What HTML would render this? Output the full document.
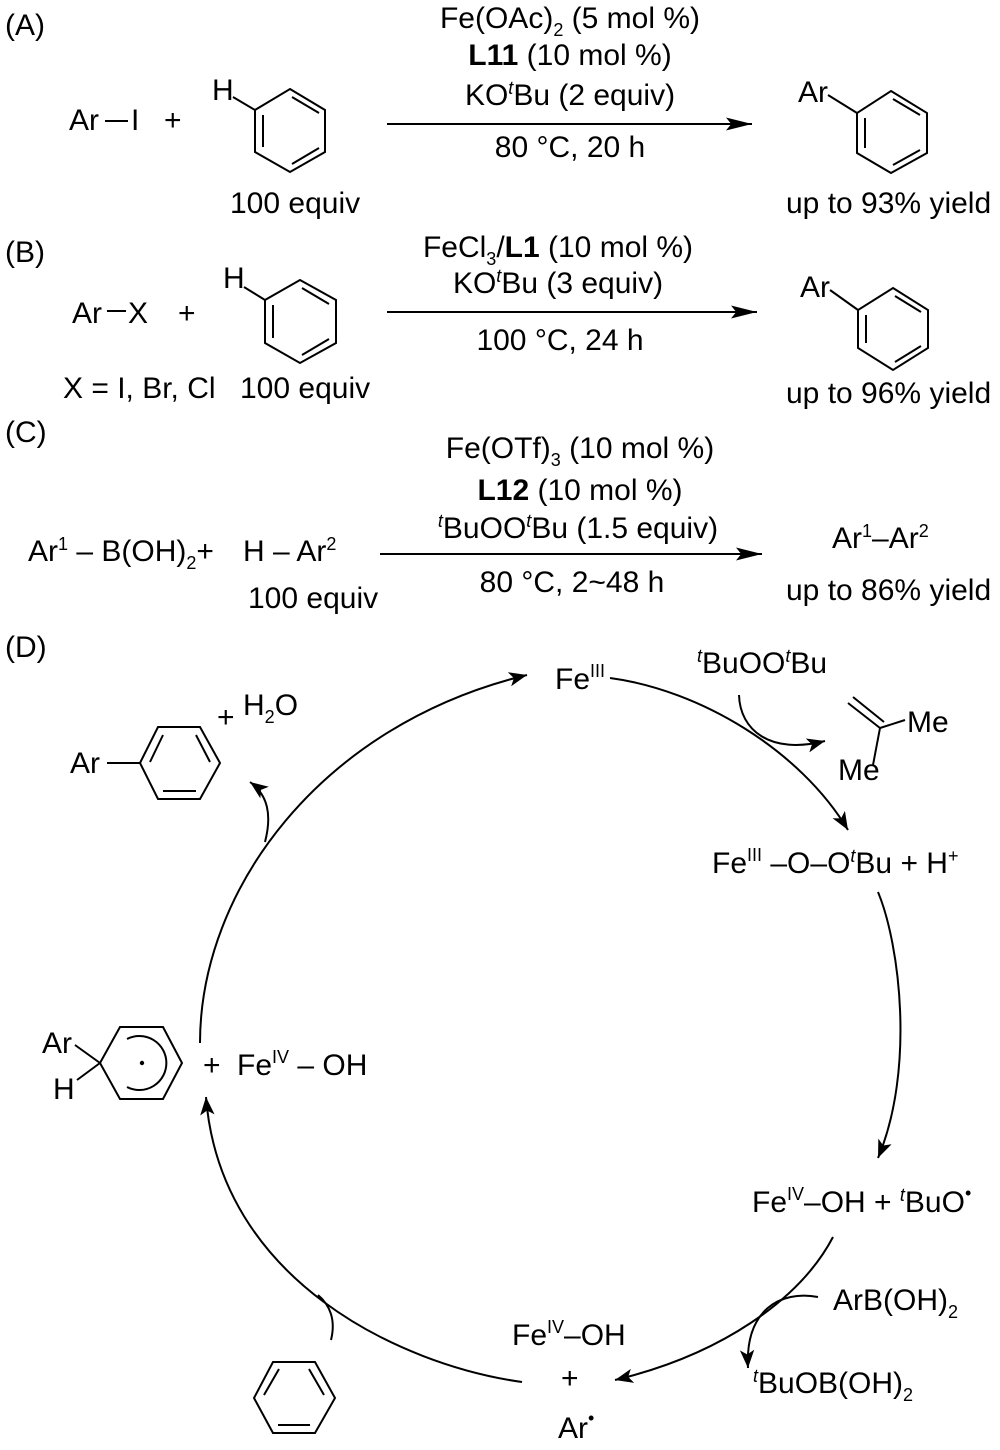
<!DOCTYPE html>
<html><head><meta charset="utf-8"><style>
html,body{margin:0;padding:0;background:#fff;}
svg{display:block;font-family:"Liberation Sans",Arial,sans-serif;}
text{font-size:30px;fill:#000;}
.s{font-size:18px;}
</style></head><body>
<svg width="1000" height="1450" viewBox="0 0 1000 1450" xmlns="http://www.w3.org/2000/svg">
<defs>
<marker id="ah" viewBox="0 0 10 10" refX="10" refY="5" markerWidth="18" markerHeight="18" markerUnits="userSpaceOnUse" orient="auto">
<path d="M0,1 L10,5 L0,9 L2.5,5 Z" fill="#000"/></marker>
<marker id="ab" viewBox="0 0 10 10" refX="10" refY="5" markerWidth="26" markerHeight="26" markerUnits="userSpaceOnUse" orient="auto">
<path d="M0,2.5 L10,5 L0,7.5 L2,5 Z" fill="#000"/></marker>
</defs>
<g stroke="#000" stroke-width="2" fill="none">
<!-- A -->
<line x1="105" y1="121" x2="128" y2="121"/>
<line x1="233" y1="97" x2="255" y2="110"/>
<polygon points="290,89 325,110 325,152 290,172 255,152 255,110"/>
<line x1="263" y1="115" x2="263" y2="147"/><line x1="292" y1="97" x2="319" y2="113"/><line x1="292" y1="164" x2="319" y2="148"/>
<line x1="387" y1="124" x2="752" y2="124" marker-end="url(#ab)"/>
<line x1="828" y1="95" x2="857" y2="113"/>
<polygon points="891,91 927,113 927,153 891,173 857,153 857,113"/>
<line x1="865" y1="118" x2="865" y2="148"/><line x1="893" y1="99" x2="920" y2="115"/><line x1="893" y1="165" x2="920" y2="150"/>
<!-- B -->
<line x1="107" y1="311" x2="126" y2="311"/>
<line x1="244" y1="287" x2="265" y2="300"/>
<polygon points="300,280 336,300 336,343 300,363 265,343 265,300"/>
<line x1="273" y1="305" x2="273" y2="338"/><line x1="302" y1="288" x2="329" y2="304"/><line x1="302" y1="355" x2="329" y2="339"/>
<line x1="387" y1="312" x2="757" y2="312" marker-end="url(#ab)"/>
<line x1="830" y1="290" x2="858" y2="310"/>
<polygon points="893,288 928,310 928,348 893,370 858,348 858,310"/>
<line x1="866" y1="315" x2="866" y2="343"/><line x1="895" y1="296" x2="921" y2="312"/><line x1="895" y1="362" x2="921" y2="346"/>
<!-- C -->
<line x1="380" y1="554" x2="762" y2="554" marker-end="url(#ab)"/>
<!-- D cycle -->
<path d="M610,678 C700,690 800,750 848,830" marker-end="url(#ah)"/>
<path d="M739,695 C740,730 770,755 825,741" marker-end="url(#ah)"/>
<line x1="848" y1="703" x2="880" y2="728"/><line x1="853" y1="697" x2="884" y2="722"/>
<line x1="880" y1="728" x2="905" y2="720"/><line x1="880" y1="728" x2="873" y2="765"/>
<path d="M878,892 C900,945 915,1070 878,1158" marker-end="url(#ah)"/>
<path d="M833,1237 C800,1300 720,1355 615,1380" marker-end="url(#ah)"/>
<path d="M818,1297 C780,1290 745,1310 748,1368" marker-end="url(#ah)"/>
<path d="M522,1382 C400,1365 220,1280 206,1097" marker-end="url(#ah)"/>
<path d="M331,1340 C336,1320 330,1305 318,1295"/>
<polygon points="273,1362 315,1362 335,1398 315,1433 273,1433 254,1398"/>
<line x1="264" y1="1395" x2="279" y2="1369"/><line x1="309" y1="1369" x2="324" y2="1395"/><line x1="278" y1="1425" x2="310" y2="1425"/>
<path d="M200,1043 C200,890 320,725 527,675" marker-end="url(#ah)"/>
<path d="M265,842 C272,815 268,795 250,782" marker-end="url(#ah)"/>
<line x1="107" y1="763" x2="140" y2="763"/>
<polygon points="140,763 158,727 200,727 220,763 200,799 158,799"/>
<line x1="150" y1="762" x2="163" y2="735"/><line x1="196" y1="735" x2="210" y2="762"/><line x1="163" y1="791" x2="196" y2="791"/>
<line x1="75" y1="1045" x2="100" y2="1063"/><line x1="77" y1="1080" x2="100" y2="1063"/>
<polygon points="100,1063 120,1027 163,1027 182,1063 163,1099 120,1099"/>
<path d="M127,1039 A27,27 0 1 1 127,1087"/>
</g>
<circle cx="142" cy="1063" r="2.2" fill="#000"/>
<!-- text -->
<text x="5" y="35">(A)</text>
<text x="69" y="130">Ar</text><text x="131" y="130">I</text><text x="164" y="130">+</text>
<text x="212" y="100">H</text>
<text x="230" y="213">100 equiv</text>
<text x="570" y="28" text-anchor="middle">Fe(OAc)<tspan class="s" dy="8">2</tspan><tspan dy="-8"> (5 mol %)</tspan></text>
<text x="570" y="65" text-anchor="middle"><tspan font-weight="bold">L11</tspan> (10 mol %)</text>
<text x="570" y="105" text-anchor="middle">KO<tspan class="s" dy="-11" font-style="italic">t</tspan><tspan dy="11">Bu (2 equiv)</tspan></text>
<text x="570" y="157" text-anchor="middle">80 °C, 20 h</text>
<text x="798" y="102">Ar</text>
<text x="786" y="213">up to 93% yield</text>

<text x="5" y="262">(B)</text>
<text x="72" y="323">Ar</text><text x="128" y="323">X</text><text x="178" y="323">+</text>
<text x="223" y="288">H</text>
<text x="63" y="398">X = I, Br, Cl</text><text x="240" y="398">100 equiv</text>
<text x="558" y="257" text-anchor="middle">FeCl<tspan class="s" dy="8">3</tspan><tspan dy="-8">/</tspan><tspan font-weight="bold">L1</tspan> (10 mol %)</text>
<text x="558" y="293" text-anchor="middle">KO<tspan class="s" dy="-11" font-style="italic">t</tspan><tspan dy="11">Bu (3 equiv)</tspan></text>
<text x="560" y="350" text-anchor="middle">100 °C, 24 h</text>
<text x="800" y="297">Ar</text>
<text x="786" y="403">up to 96% yield</text>

<text x="5" y="442">(C)</text>
<text x="28" y="561">Ar<tspan class="s" dy="-11">1</tspan><tspan dy="11"> – B(OH)</tspan><tspan class="s" dy="8">2</tspan><tspan dy="-8">+</tspan></text>
<text x="243" y="561">H – Ar<tspan class="s" dy="-11">2</tspan></text>
<text x="248" y="608">100 equiv</text>
<text x="580" y="458" text-anchor="middle">Fe(OTf)<tspan class="s" dy="8">3</tspan><tspan dy="-8"> (10 mol %)</tspan></text>
<text x="580" y="500" text-anchor="middle"><tspan font-weight="bold">L12</tspan> (10 mol %)</text>
<text x="578" y="538" text-anchor="middle"><tspan class="s" dy="-11" font-style="italic">t</tspan><tspan dy="11">BuOO</tspan><tspan class="s" dy="-11" font-style="italic">t</tspan><tspan dy="11">Bu (1.5 equiv)</tspan></text>
<text x="572" y="592" text-anchor="middle">80 °C, 2~48 h</text>
<text x="832" y="548">Ar<tspan class="s" dy="-11">1</tspan><tspan dy="11">–Ar</tspan><tspan class="s" dy="-11">2</tspan></text>
<text x="786" y="600">up to 86% yield</text>

<text x="5" y="657">(D)</text>
<text x="555" y="689">Fe<tspan class="s" dy="-12">III</tspan></text>
<text x="697" y="673"><tspan class="s" dy="-11" font-style="italic">t</tspan><tspan dy="11">BuOO</tspan><tspan class="s" dy="-11" font-style="italic">t</tspan><tspan dy="11">Bu</tspan></text>
<text x="907" y="732">Me</text>
<text x="838" y="780">Me</text>
<text x="712" y="873">Fe<tspan class="s" dy="-12">III</tspan><tspan dy="12"> –O–O</tspan><tspan class="s" dy="-11" font-style="italic">t</tspan><tspan dy="11">Bu + H</tspan><tspan class="s" dy="-11">+</tspan></text>
<text x="752" y="1212">Fe<tspan class="s" dy="-12">IV</tspan><tspan dy="12">–OH + </tspan><tspan class="s" dy="-11" font-style="italic">t</tspan><tspan dy="11">BuO</tspan><tspan class="s" dy="-13">•</tspan></text>
<text x="833" y="1310">ArB(OH)<tspan class="s" dy="8">2</tspan></text>
<text x="753" y="1393"><tspan class="s" dy="-11" font-style="italic">t</tspan><tspan dy="11">BuOB(OH)</tspan><tspan class="s" dy="8">2</tspan></text>
<text x="512" y="1345">Fe<tspan class="s" dy="-12">IV</tspan><tspan dy="12">–OH</tspan></text>
<text x="561" y="1388">+</text>
<text x="558" y="1438">Ar<tspan class="s" dy="-14">•</tspan></text>
<text x="42" y="1053">Ar</text>
<text x="53" y="1099">H</text>
<text x="203" y="1075">+</text>
<text x="237" y="1075">Fe<tspan class="s" dy="-12">IV</tspan><tspan dy="12"> – OH</tspan></text>
<text x="70" y="773">Ar</text>
<text x="217" y="727">+</text>
<text x="243" y="715">H<tspan class="s" dy="8">2</tspan><tspan dy="-8">O</tspan></text>
</svg>
</body></html>
